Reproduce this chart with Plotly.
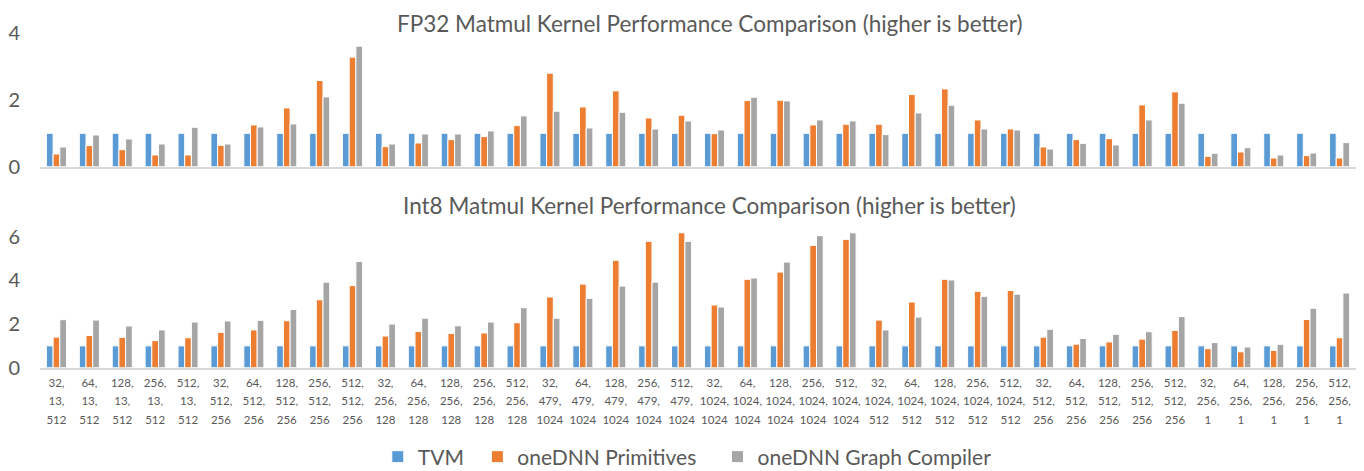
import plotly.graph_objects as go

M = [32, 64, 128, 256, 512] * 8
N = [13]*5 + [512]*5 + [256]*5 + [479]*5 + [1024]*5 + [1024]*5 + [512]*5 + [256]*5
K = [512]*5 + [256]*5 + [128]*5 + [1024]*5 + [1024]*5 + [512]*5 + [256]*5 + [1]*5
case_ids = [f"case{i + 1}" for i in range(len(M))]

fp32_tvm = [1.0] * 40
fp32_prim = [0.38, 0.63, 0.51, 0.35, 0.35, 0.64, 1.25, 1.76, 2.58, 3.28,
             0.60, 0.71, 0.81, 0.90, 1.23, 2.80, 1.79, 2.27, 1.46, 1.54,
             0.99, 1.98, 1.99, 1.25, 1.27, 1.27, 2.16, 2.33, 1.40, 1.13,
             0.59, 0.81, 0.84, 1.85, 2.24, 0.31, 0.44, 0.26, 0.33, 0.26]
fp32_gc = [0.59, 0.95, 0.83, 0.68, 1.18, 0.68, 1.19, 1.28, 2.09, 3.61,
           0.68, 0.98, 0.98, 1.07, 1.52, 1.66, 1.16, 1.63, 1.13, 1.37,
           1.10, 2.08, 1.97, 1.40, 1.37, 0.96, 1.61, 1.84, 1.13, 1.10,
           0.53, 0.70, 0.65, 1.40, 1.90, 0.40, 0.57, 0.35, 0.41, 0.72]

int8_tvm = [1.0] * 40
int8_prim = [1.40, 1.48, 1.39, 1.24, 1.37, 1.62, 1.73, 2.15, 3.11, 3.76,
             1.45, 1.66, 1.57, 1.59, 2.06, 3.24, 3.83, 4.92, 5.79, 6.18,
             2.87, 4.05, 4.38, 5.60, 5.88, 2.18, 3.01, 4.05, 3.50, 3.54,
             1.40, 1.08, 1.18, 1.31, 1.71, 0.87, 0.73, 0.79, 2.21, 1.37]
int8_gc = [2.20, 2.18, 1.91, 1.73, 2.09, 2.14, 2.17, 2.67, 3.92, 4.87,
           2.00, 2.27, 1.92, 2.09, 2.75, 2.27, 3.18, 3.74, 3.92, 5.79,
           2.78, 4.11, 4.84, 6.05, 6.18, 1.73, 2.32, 4.02, 3.27, 3.37,
           1.76, 1.34, 1.53, 1.65, 2.34, 1.15, 0.95, 1.07, 2.72, 3.42]

series_names = ["TVM", "oneDNN Primitives", "oneDNN Graph Compiler"]
colors = ["#5B9BD5", "#ED7D31", "#A5A5A5"]
legend_ids = ["legend", "legend2", "legend3"]
legend_left = [354, 456, 702]  # page x of each legend box

FONT = "Lato"
GRAY = "#595959"
W, H = 1348, 471  # page has an 8px body margin; bottom 8px fall outside the window


def py(page_y):
    return 1 - (page_y - 8) / H


def px(page_x):
    return (page_x - 8) / W


tick_text = [
    f"<span style='font-size:11.5px'>{m},</span><br><span style='font-size:11.5px'>{n},</span><br><span style='font-size:11.5px'>{k}</span>"
    for m, n, k in zip(M, N, K)
]

fig = go.Figure()
for name, color, top, bot, lg in zip(series_names, colors,
                                     [fp32_tvm, fp32_prim, fp32_gc],
                                     [int8_tvm, int8_prim, int8_gc], legend_ids):
    fig.add_trace(go.Bar(x=case_ids, y=top, name=name, marker_color=color,
                         marker_line=dict(color="white", width=1),
                         xaxis="x", yaxis="y", legend=lg, showlegend=True))
    fig.add_trace(go.Bar(x=case_ids, y=bot, name=name, marker_color=color,
                         marker_line=dict(color="white", width=1),
                         xaxis="x2", yaxis="y2", showlegend=False))

axis_common = dict(showgrid=False, zeroline=False, showline=True,
                   linecolor="#D9D9D9", linewidth=2, ticks="",
                   type="category", range=[-0.5, 39.5], automargin=False)

legend_style = dict(orientation="h", yanchor="middle", xanchor="left",
                    font=dict(size=21, color=GRAY), itemwidth=30,
                    bgcolor="rgba(0,0,0,0)")
legends = {}
for lg, left in zip(legend_ids, legend_left):
    legends[lg] = dict(x=px(left), y=py(457), **legend_style)

fig.update_layout(
    width=W, height=H,
    margin=dict(l=32, r=0, t=0, b=0),
    paper_bgcolor="white", plot_bgcolor="white",
    barmode="group", bargap=0.39, bargroupgap=0,
    font=dict(family=FONT, color=GRAY),
    xaxis=dict(anchor="y", showticklabels=False, **axis_common),
    yaxis=dict(domain=[py(166.7), py(33.1)], range=[0, 4], tickvals=[0, 2, 4],
               showgrid=False, zeroline=False, showline=False, automargin=False,
               tickfont=dict(size=20, color=GRAY), ticklabelstandoff=19),
    xaxis2=dict(anchor="y2", tickvals=case_ids, ticktext=tick_text,
                tickfont=dict(size=14.2, color=GRAY), tickangle=0,
                **axis_common),
    yaxis2=dict(domain=[py(367.7), py(230.2)], range=[0, 6.3], tickvals=[0, 2, 4, 6],
                showgrid=False, zeroline=False, showline=False, automargin=False,
                tickfont=dict(size=20, color=GRAY), ticklabelstandoff=19),
    annotations=[
        dict(text="FP32 Matmul Kernel Performance Comparison (higher is better)",
             x=px(694), y=py(23.5), xref="paper", yref="paper",
             xanchor="center", yanchor="middle",
             showarrow=False, font=dict(size=22.5, color=GRAY)),
        dict(text="Int8 Matmul Kernel Performance Comparison (higher is better)",
             x=px(694), y=py(205), xref="paper", yref="paper",
             xanchor="center", yanchor="middle",
             showarrow=False, font=dict(size=22.5, color=GRAY)),
    ],
    **legends,
)

fig.write_html("out.html")
